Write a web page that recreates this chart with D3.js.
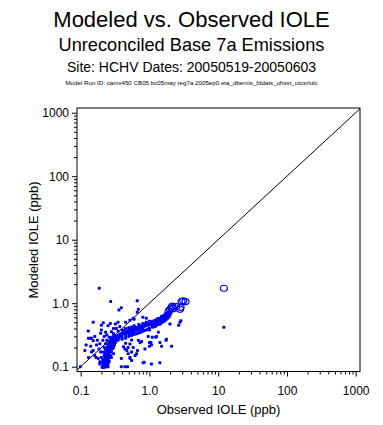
<!DOCTYPE html>
<html><head><meta charset="utf-8">
<script src="https://cdn.jsdelivr.net/npm/d3@7"></script>
<style>body{margin:0;background:#fff}text{font-family:"Liberation Sans",Arial,sans-serif}</style>
</head><body><svg id="c" width="383" height="425"></svg>
<script>
const titles = ["Modeled vs. Observed IOLE","Unreconciled Base 7a Emissions","Site: HCHV Dates: 20050519-20050603","Model Run ID: camx450 CB05 bc05may reg7a 2005ep0 eta_dbemis_fddats_uhsst_utcsrlulc"];
const xLabel = "Observed IOLE (ppb)";
const yLabel = "Modeled IOLE (ppb)";
const majorTicks = [0.1,1,10,100,1000];
const majorTickLabels = ["0.1","1.0","10","100","1000"];
// filled points: observed / modeled (ppb)
const obsFilled = [
0.205,0.215,0.225,0.235,0.245,0.21,0.22,0.23,0.24,0.25,0.215,0.225,0.235,0.245,0.255,0.205,0.22,0.23,0.24,0.25,0.26,0.21,0.225,0.235,0.245,0.255,0.265,0.22,0.23,0.24,0.25,0.26,0.27,0.225,0.235,0.245,0.255,0.265,0.275,0.285,0.23,0.24,0.25,0.26,0.27,0.28,0.29,0.3,0.245,0.255,0.265,0.275,0.285,0.295,0.31,0.25,0.26,0.27,0.28,0.29,0.3,0.32,0.26,0.27,0.28,0.29,0.3,0.31,0.33,0.34,0.28,0.3,0.32,0.35,
0.19,0.2,0.21,0.22,0.23,0.24,0.26,0.27,0.28,0.29,0.3,0.31,0.32,0.33,0.34,0.36,0.28,0.3,0.26,0.25,
0.36,0.37,0.38,0.39,0.4,0.41,0.42,0.44,0.45,0.47,0.48,0.5,0.51,0.53,0.55,0.57,0.59,0.61,0.63,0.65,0.68,0.7,0.72,0.75,0.78,0.8,0.83,0.86,0.9,0.93,0.97,1.0,0.4,0.45,0.5,0.55,0.6,0.65,0.7,0.75,0.8,0.42,0.52,0.62,0.72,0.85,
0.35,0.4,0.45,0.5,0.55,0.6,0.65,0.7,0.75,0.8,0.85,0.9,0.95,1.0,0.3,0.35,0.4,0.45,0.5,0.55,0.6,0.7,0.8,0.9,1.0,
1.04,1.08,1.12,1.16,1.2,1.24,1.28,1.32,1.36,1.4,1.44,1.48,1.52,1.56,1.6,1.64,1.68,1.72,1.76,1.8,1.85,1.9,1.95,2.0,1.1,1.2,1.3,1.4,1.5,1.6,1.7,1.8,1.9,2.0,2.05,1.0,1.1,1.2,1.05,1.3,1.5,1.7,
1.1,1.2,1.3,1.4,1.5,1.6,1.7,1.8,1.9,1.15,1.25,1.35,1.45,1.55,1.65,1.75,1.85,1.95,
0.186,0.273,0.665,0.39,0.36,0.665,0.69,0.152,0.213,0.2,0.25,0.27,0.129,0.2,0.195,0.24,0.28,0.33,0.37,0.52,0.58,0.13,0.144,0.152,0.115,0.144,0.152,0.17,0.167,0.18,0.19,0.099,0.137,0.19,0.195,0.21,
0.12,0.16,0.175,0.14,0.185,0.16,0.13,0.22,0.23,0.3,0.32,0.35,0.45,0.6,0.8,0.9,
0.42,0.47,0.49,0.39,0.55,0.52,0.55,0.81,1.07,1.42,0.39,0.44,0.69,0.73,0.96,1.0,1.07,1.27,1.42,1.74,2.1,2.78,1.99,2.66,1.35,1.1,0.77,1.05,1.23,1.77,0.44,0.49,0.58,0.67,0.86,1.0,1.5,0.52,0.65,0.62,0.84,0.48,0.45,0.52,0.55,12.1,2.87];
const modFilled = [
0.098,0.097,0.099,0.1,0.102,0.105,0.104,0.106,0.108,0.11,0.112,0.115,0.117,0.12,0.122,0.118,0.125,0.128,0.131,0.134,0.137,0.13,0.138,0.142,0.146,0.15,0.153,0.15,0.156,0.16,0.165,0.17,0.173,0.165,0.172,0.178,0.183,0.188,0.192,0.196,0.182,0.19,0.196,0.2,0.206,0.21,0.215,0.22,0.205,0.212,0.22,0.226,0.232,0.236,0.24,0.225,0.235,0.242,0.248,0.254,0.26,0.262,0.25,0.26,0.268,0.275,0.28,0.285,0.29,0.295,0.29,0.3,0.305,0.31,
0.11,0.14,0.17,0.2,0.23,0.26,0.29,0.15,0.17,0.19,0.2,0.22,0.24,0.26,0.27,0.28,0.14,0.16,0.12,0.1,
0.3,0.32,0.31,0.33,0.32,0.34,0.33,0.35,0.34,0.36,0.35,0.37,0.36,0.38,0.37,0.39,0.38,0.4,0.39,0.41,0.4,0.42,0.41,0.43,0.42,0.44,0.43,0.45,0.44,0.46,0.45,0.47,0.29,0.31,0.33,0.34,0.35,0.37,0.38,0.39,0.4,0.37,0.4,0.42,0.44,0.47,
0.26,0.27,0.28,0.3,0.31,0.32,0.33,0.34,0.35,0.36,0.37,0.38,0.39,0.38,0.33,0.36,0.38,0.4,0.41,0.42,0.44,0.46,0.48,0.5,0.52,
0.46,0.48,0.47,0.49,0.48,0.5,0.51,0.5,0.52,0.53,0.54,0.55,0.56,0.57,0.58,0.6,0.62,0.63,0.65,0.66,0.68,0.7,0.72,0.74,0.44,0.45,0.47,0.49,0.51,0.54,0.57,0.6,0.63,0.67,0.7,0.4,0.42,0.43,0.5,0.55,0.6,0.68,
0.52,0.54,0.57,0.58,0.62,0.64,0.66,0.7,0.73,0.42,0.44,0.46,0.47,0.5,0.52,0.55,0.58,0.62,
1.72,1.06,1.09,0.85,0.78,0.72,0.8,0.5,0.49,0.45,0.44,0.48,0.365,0.38,0.336,0.316,0.355,0.4,0.43,0.54,0.58,0.28,0.28,0.256,0.18,0.17,0.18,0.22,0.14,0.135,0.12,0.1,0.28,0.23,0.17,0.26,
0.22,0.3,0.26,0.21,0.19,0.15,0.14,0.3,0.35,0.4,0.47,0.5,0.5,0.56,0.6,0.58,
0.207,0.18,0.16,0.135,0.17,0.135,0.125,0.115,0.11,0.115,0.1,0.1,0.26,0.24,0.3,0.24,0.22,0.3,0.24,0.26,0.21,0.5,0.47,0.45,0.35,0.29,0.25,0.24,0.29,0.27,0.19,0.2,0.2,0.18,0.19,0.21,0.21,0.14,0.16,0.15,0.117,0.1,0.233,0.227,0.263,0.417,0.53];
// open circle points
const obsOpen = [1.9,2.0,2.1,2.15,2.2,2.44,2.78,2.84,2.93,3.1,3.35,12.1];
const modOpen = [0.75,0.8,0.85,0.9,0.82,0.88,0.8,0.86,1.06,1.09,1.06,1.72];

const svg = d3.select("#c");
const x = d3.scaleLog().domain([0.0884,1155]).range([77,360]);
const y = d3.scaleLog().domain([0.084,1186]).range([371.5,108]);

const allTicks = [];
[0.1,1,10,100].forEach(d=>{for(let k=1;k<10;k++)allTicks.push(d*k);});
allTicks.push(1000);
const isMajor = v => majorTicks.some(m=>Math.abs(m-v)/m<1e-6);
const lab = v => majorTickLabels[majorTicks.findIndex(m=>Math.abs(m-v)/m<1e-6)];

const ft = "Liberation Sans, Arial, sans-serif";
const T = [[22,27],[18.2,51],[14,72],[6.2,85]];
titles.forEach((t,i)=>svg.append("text").attr("x",191.5).attr("y",T[i][1]).attr("text-anchor","middle").attr("font-size",T[i][0]).text(t));

// axes
const xa = svg.append("g").attr("transform","translate(0,371.5)")
  .call(d3.axisBottom(x).tickValues(allTicks).tickSizeOuter(0).tickSizeInner(3).tickFormat(v=>isMajor(v)?lab(v):""));
const ya = svg.append("g").attr("transform","translate(77,0)")
  .call(d3.axisLeft(y).tickValues(allTicks).tickSizeOuter(0).tickSizeInner(3).tickFormat(v=>isMajor(v)?lab(v):""));
[xa,ya].forEach(g=>{
  g.select(".domain").remove();
  g.selectAll(".tick line").attr("stroke","#000");
  g.selectAll(".tick text").attr("font-size",12).attr("font-family",ft).attr("fill","#000");
});
xa.selectAll(".tick").filter(v=>isMajor(v)).select("line").attr("y2",5);
ya.selectAll(".tick").filter(v=>isMajor(v)).select("line").attr("x2",-5);
xa.selectAll(".tick text").attr("dy","1.1em").attr("y",10);
ya.selectAll(".tick text").attr("x",-8);

// frame
svg.append("rect").attr("x",77).attr("y",108).attr("width",283).attr("height",263.5)
  .attr("fill","none").attr("stroke","#000").attr("stroke-width",1);

// 1:1 line
const lo = 0.0884, hi = 1155;
svg.append("line").attr("x1",x(lo)).attr("y1",y(lo)).attr("x2",x(hi)).attr("y2",y(hi))
  .attr("stroke","#000").attr("stroke-width",1);

// points
const filled = obsFilled.map((o,i)=>({o,m:modFilled[i]}));
svg.append("g").selectAll("rect").data(filled).join("rect")
  .attr("x",d=>x(d.o)-1.5).attr("y",d=>y(d.m)-1.5).attr("width",3).attr("height",3).attr("rx",0.8)
  .attr("fill","#0000ff");
const open = obsOpen.map((o,i)=>({o,m:modOpen[i]}));
svg.append("g").selectAll("ellipse").data(open).join("ellipse")
  .attr("cx",d=>x(d.o)).attr("cy",d=>y(d.m)).attr("rx",3.5).attr("ry",3)
  .attr("fill","none").attr("stroke","#0000ff").attr("stroke-width",1.2);

// axis titles
svg.append("text").attr("x",218.5).attr("y",414).attr("text-anchor","middle").attr("font-size",13).text(xLabel);
svg.append("text").attr("transform","translate(38,240) rotate(-90)").attr("text-anchor","middle").attr("font-size",13).text(yLabel);
</script></body></html>
